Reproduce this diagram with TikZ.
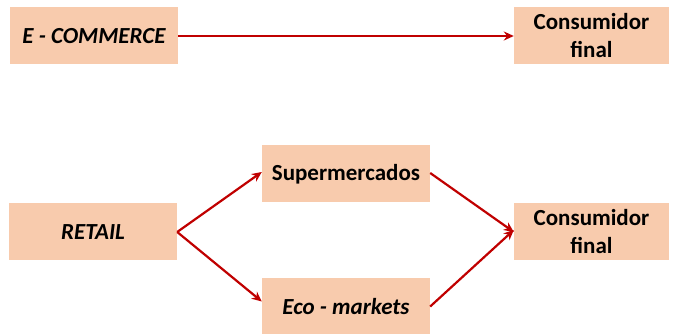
\documentclass[tikz,border=0pt]{standalone}
\usepackage{fontspec}
\setmainfont{Carlito}
\usetikzlibrary{arrows.meta}
\definecolor{boxfill}{HTML}{F8CBAD}
\definecolor{flow}{HTML}{C00000}
\begin{document}
\begin{tikzpicture}[x=1pt,y=-1pt,
  chan/.style={fill=boxfill,draw=none,minimum width=168pt,minimum height=57pt,
    inner sep=0pt,align=center,font=\fontsize{23}{28}\selectfont\bfseries},
  endbox/.style={chan,minimum width=155pt},
  flowarrow/.style={draw=flow,line width=2.2pt,-{Stealth[length=10pt,width=9pt]}}]
\useasboundingbox (0,0) rectangle (673,334);
% online channel
\node[chan] (ecom) at (94,36) {\itshape E - COMMERCE};
\node[endbox] (cons1) at (591.5,36) {Consumidor\\final};
% physical retail channels
\node[chan] (retail) at (93,232) {\itshape RETAIL};
\node[chan] (super) at (346,174) {Supermercados};
\node[chan] (eco) at (346,306.5) {\itshape Eco - markets};
\node[endbox] (cons2) at (591.5,232) {Consumidor\\final};
% flows
\draw[flowarrow] (ecom.east) -- (cons1.west);
\draw[flowarrow] (retail.east) -- ([yshift=2pt]super.west);
\draw[flowarrow] (retail.east) -- ([yshift=5pt]eco.west);
\draw[flowarrow] ([yshift=1pt]super.east) -- (cons2.west);
\draw[flowarrow] (eco.east) -- ([yshift=2pt]cons2.west);
\end{tikzpicture}
\end{document}
